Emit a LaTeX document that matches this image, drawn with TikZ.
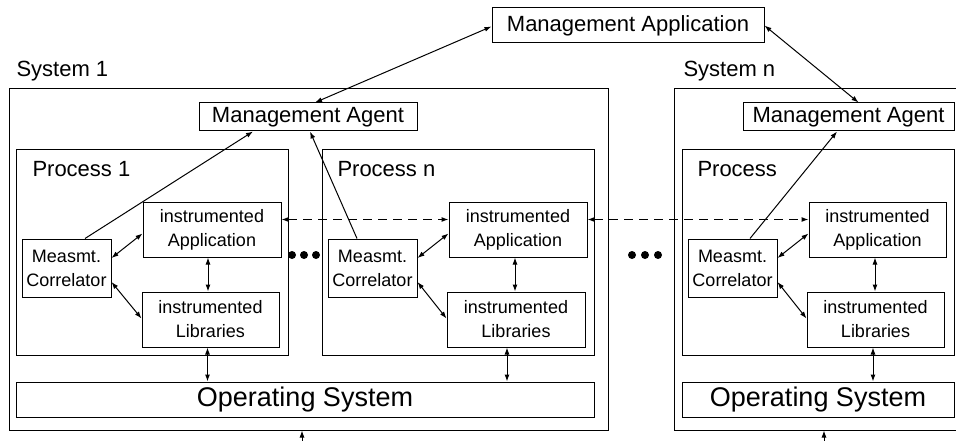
\documentclass[tikz,border=0pt]{standalone}
\usepackage{fontspec}
\setmainfont{Liberation Sans}
\usetikzlibrary{arrows.meta,calc}
\begin{document}
\begin{tikzpicture}[x=1pt,y=-1pt,
  every path/.style={line width=1pt},
  box/.style={draw,line width=1pt,inner sep=0pt,align=center},
  bigtxt/.style={font=\fontsize{22}{26}\selectfont},
  smalltxt/.style={font=\fontsize{18}{24}\selectfont},
  ostxt/.style={font=\fontsize{27}{30}\selectfont},
  lbl/.style={anchor=base west,inner sep=0pt,font=\fontsize{22}{26}\selectfont},
  app/.style={box,smalltxt,minimum width=138pt,minimum height=55pt},
  meas/.style={box,smalltxt,minimum width=89pt,minimum height=58pt},
  dot/.style={circle,fill=black,inner sep=0pt,minimum size=8pt},
  biarrow/.style={{Latex[length=7pt,width=5pt]}-{Latex[length=7pt,width=5pt]}},
  toarrow/.style={-{Latex[length=7pt,width=5pt]}},
  dashedarrow/.style={biarrow,dash pattern=on 9pt off 6pt}]
\useasboundingbox (0,0) rectangle (956,441);

% Management application
\node[box,bigtxt,minimum width=272pt,minimum height=35pt] (MApp) at (628,25.5) {Management Application};

% System 1
\node[draw,line width=1pt,minimum width=599pt,minimum height=341pt,inner sep=0pt] (Sys1) at (308.5,259.5) {};
\node[lbl] (Sys1lbl) at (16,77) {System 1};
\node[box,bigtxt,minimum width=218pt,minimum height=28pt] (MA1) at (308,117) {Management Agent};

\node[draw,line width=1pt,minimum width=272pt,minimum height=205pt,inner sep=0pt] (P1) at (152,252.5) {};
\node[lbl] (P1lbl) at (32,177) {Process 1};
\node[app] (App1) at (212,229.5) {instrumented\\Application};
\node[meas] (Meas1) at (66.5,268) {Measmt.\\Correlator};
\node[app,minimum width=137pt] (Lib1) at (210.5,319.5) {instrumented\\Libraries};

\node[draw,line width=1pt,minimum width=272pt,minimum height=205pt,inner sep=0pt] (Pn) at (458,252.5) {};
\node[lbl] (Pnlbl) at (337,177) {Process n};
\node[app] (Appn) at (518,229.5) {instrumented\\Application};
\node[meas] (Measn) at (372.5,268) {Measmt.\\Correlator};
\node[app] (Libn) at (516,319.5) {instrumented\\Libraries};

\node[box,ostxt,minimum width=578pt,minimum height=35pt] (OS1) at (305,399.5) {Operating System};

\node[dot] (d11) at (292,255) {};
\node[dot] (d12) at (304,255) {};
\node[dot] (d13) at (316,255) {};

% System n
\node[minimum width=281pt,minimum height=341pt,inner sep=0pt] (SysN) at (815.5,259.5) {};
\draw (SysN.north east) -- (SysN.north west) -- (SysN.south west) -- (SysN.south east);
\node[lbl] (SysNlbl) at (683,77) {System n};
\node[box,bigtxt,minimum width=211pt,minimum height=28pt] (MAN) at (848.5,117) {Management Agent};

\node[draw,line width=1pt,minimum width=272pt,minimum height=205pt,inner sep=0pt] (PN) at (818,252.5) {};
\node[lbl] (PNlbl) at (697,177) {Process};
\node[app,minimum width=137pt] (AppN) at (877.5,229.5) {instrumented\\Application};
\node[meas] (MeasN) at (732.5,268) {Measmt.\\Correlator};
\node[app,minimum width=137pt] (LibN) at (875.5,319.5) {instrumented\\Libraries};

\node[box,ostxt,minimum width=272pt,minimum height=35pt] (OSN) at (818,399.5) {Operating System};

\node[dot] (d21) at (632,255) {};
\node[dot] (d22) at (645,255) {};
\node[dot] (d23) at (658,255) {};

% connectors: management
\draw[biarrow] ([xshift=7pt]MA1.north) -- ([yshift=-1pt]MApp.west);
\draw[biarrow] (MApp.east) -- ([xshift=10pt]MAN.north);
\draw[toarrow] ([xshift=18.5pt]Meas1.north) -- ([xshift=-55pt]MA1.south);
\draw[toarrow] ([xshift=-15.5pt]Measn.north) -- ([xshift=2pt]MA1.south);
\draw[toarrow] ([xshift=17.5pt]MeasN.north) -- ([xshift=-11.5pt]MAN.south);

% within processes
\foreach \m/\a/\l/\o/\dx/\dy in {Meas1/App1/Lib1/OS1/-4/-3, Measn/Appn/Libn/OS1/-3/-9, MeasN/AppN/LibN/OSN/-2.5/-2.5}{
  \draw[biarrow] ([yshift=10pt]\m.east) -- ([yshift=-4pt]\a.west);
  \draw[biarrow] ([yshift=-14pt]\m.east) -- ([yshift=1pt]\l.west);
  \draw[biarrow] ([xshift=\dx pt]\a.south) -- ([xshift=\dx pt]\a.south |- \l.north);
  \draw[biarrow] ([xshift=\dy pt]\l.south) -- ([xshift=\dy pt]\l.south |- \o.north);
}

% dashed links between applications
\draw[dashedarrow] ([yshift=10pt]App1.east) -- ([yshift=10pt]Appn.west);
\draw[dashedarrow] ([yshift=10pt]Appn.east) -- ([yshift=10pt]AppN.west);

% bottom inputs
\coordinate (b1) at (302,445);
\coordinate (b2) at (824,445);
\draw[toarrow] (b1) -- (b1 |- Sys1.south);
\draw[toarrow] (b2) -- (b2 |- SysN.south);
\end{tikzpicture}
\end{document}
